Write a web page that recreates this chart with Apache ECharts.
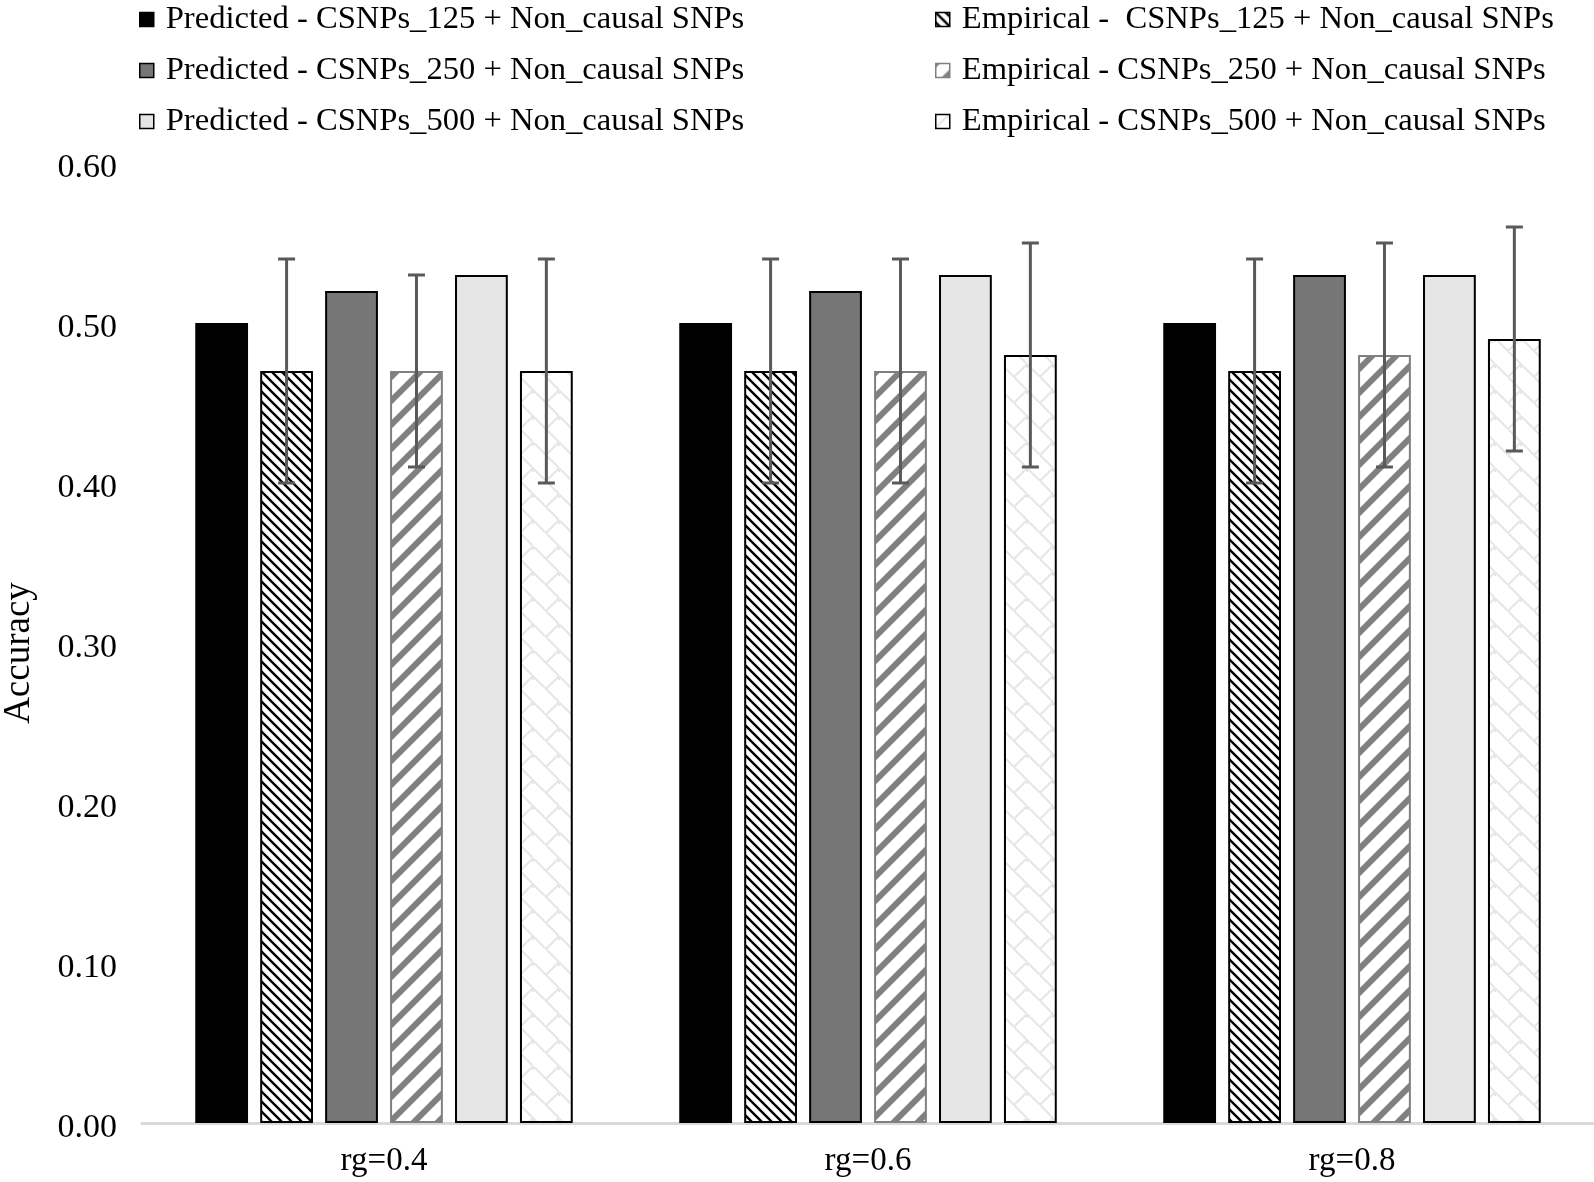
<!DOCTYPE html>
<html>
<head>
<meta charset="utf-8">
<script src="https://cdn.jsdelivr.net/npm/echarts@6/dist/echarts.min.js"></script>
<style>
html,body{margin:0;padding:0;background:#fff;}
#chart{width:1594px;height:1182px;}
</style>
</head>
<body>
<div id="chart"></div>
<script>
const categories = ['rg=0.4', 'rg=0.6', 'rg=0.8'];
const seriesNames = [
  'Predicted - CSNPs_125 + Non_causal SNPs',
  'Empirical -  CSNPs_125 + Non_causal SNPs',
  'Predicted - CSNPs_250 + Non_causal SNPs',
  'Empirical - CSNPs_250 + Non_causal SNPs',
  'Predicted - CSNPs_500 + Non_causal SNPs',
  'Empirical - CSNPs_500 + Non_causal SNPs'
];
const predicted125 = [0.50, 0.50, 0.50];
const empirical125 = [0.47, 0.47, 0.47];
const empirical125Low = [0.40, 0.40, 0.40];
const empirical125High = [0.54, 0.54, 0.54];
const predicted250 = [0.52, 0.52, 0.53];
const empirical250 = [0.47, 0.47, 0.48];
const empirical250Low = [0.41, 0.40, 0.41];
const empirical250High = [0.53, 0.54, 0.55];
const predicted500 = [0.53, 0.53, 0.53];
const empirical500 = [0.47, 0.48, 0.49];
const empirical500Low = [0.40, 0.41, 0.42];
const empirical500High = [0.54, 0.55, 0.56];
const yTicks = [0, 0.1, 0.2, 0.3, 0.4, 0.5, 0.6];

const FONT = "'Liberation Serif', 'Times New Roman', serif";

function makeTile(size, draw) {
  const c = document.createElement('canvas');
  c.width = size; c.height = size;
  const ctx = c.getContext('2d');
  ctx.fillStyle = '#fff';
  ctx.fillRect(0, 0, size, size);
  draw(ctx, size);
  return c;
}
const pat125 = makeTile(10, (ctx, s) => {
  ctx.strokeStyle = '#000'; ctx.lineWidth = 2.4;
  ctx.beginPath();
  ctx.moveTo(-2, -2); ctx.lineTo(s + 2, s + 2);
  ctx.moveTo(-2, s - 2); ctx.lineTo(2, s + 2);
  ctx.moveTo(s - 2, -2); ctx.lineTo(s + 2, 2);
  ctx.stroke();
});
const pat250 = makeTile(24, (ctx, s) => {
  ctx.strokeStyle = '#808080'; ctx.lineWidth = 6;
  ctx.beginPath();
  ctx.moveTo(-4, s + 4); ctx.lineTo(s + 4, -4);
  ctx.moveTo(-4, 4); ctx.lineTo(4, -4);
  ctx.moveTo(s - 4, s + 4); ctx.lineTo(s + 4, s - 4);
  ctx.stroke();
});
const pat500 = makeTile(26, (ctx, s) => {
  ctx.strokeStyle = '#e6e6e6'; ctx.lineWidth = 2;
  ctx.beginPath();
  ctx.moveTo(0, s / 2); ctx.lineTo(s / 2, 0); ctx.lineTo(s, s / 2);
  ctx.moveTo(s / 2, 0); ctx.lineTo(s / 2, s * 0.15);
  ctx.moveTo(0, s / 2); ctx.lineTo(s / 2, s);
  ctx.stroke();
});

const styles = [
  { color: '#000000', borderColor: '#000000', borderWidth: 0 },
  { color: { image: pat125, repeat: 'repeat' }, borderColor: '#000000', borderWidth: 2 },
  { color: '#767676', borderColor: '#000000', borderWidth: 2 },
  { color: { image: pat250, repeat: 'repeat' }, borderColor: '#808080', borderWidth: 2 },
  { color: '#e6e6e6', borderColor: '#000000', borderWidth: 2 },
  { color: { image: pat500, repeat: 'repeat' }, borderColor: '#000000', borderWidth: 2 }
];
const values = [predicted125, empirical125, predicted250, empirical250, predicted500, empirical500];
const errors = {
  1: [empirical125Low, empirical125High],
  3: [empirical250Low, empirical250High],
  5: [empirical500Low, empirical500High]
};

const CAT_GAP = 0.22, BAR_GAP = 0.23, N = 6;

const series = [];
values.forEach((v, i) => {
  series.push({
    name: seriesNames[i],
    type: 'bar',
    data: v,
    barCategoryGap: (CAT_GAP * 100) + '%',
    barGap: (BAR_GAP * 100) + '%',
    itemStyle: styles[i],
    emphasis: { disabled: true },
    z: 2
  });
});
Object.keys(errors).forEach(k => {
  const idx = +k;
  const [lo, hi] = errors[idx];
  series.push({
    type: 'custom',
    name: 'err' + idx,
    data: categories.map((c, j) => [j, lo[j], hi[j]]),
    encode: { x: 0, y: [1, 2] },
    z: 5,
    silent: true,
    renderItem: function (params, api) {
      const ci = api.value(0);
      const band = api.size([1, 0])[0];
      const bw = band * (1 - CAT_GAP) / (N + (N - 1) * BAR_GAP);
      const step = bw * (1 + BAR_GAP);
      const cx = api.coord([ci, 0])[0] + (idx - (N - 1) / 2) * step;
      const yl = api.coord([ci, api.value(1)])[1];
      const yh = api.coord([ci, api.value(2)])[1];
      const hw = 8.5;
      const st = { stroke: '#595959', lineWidth: 3 };
      return {
        type: 'group',
        children: [
          { type: 'line', shape: { x1: cx, y1: yl, x2: cx, y2: yh }, style: st },
          { type: 'line', shape: { x1: cx - hw, y1: yh, x2: cx + hw, y2: yh }, style: st },
          { type: 'line', shape: { x1: cx - hw, y1: yl, x2: cx + hw, y2: yl }, style: st }
        ]
      };
    }
  });
});

const legendBase = {
  orient: 'vertical',
  top: 3,
  padding: 0,
  itemGap: 18,
  itemWidth: 14,
  itemHeight: 14,
  icon: 'rect',
  selectedMode: false,
  textStyle: { fontFamily: FONT, fontSize: 32.6, color: '#000', lineHeight: 33, padding: [0, 0, 0, 7] }
};

const chart = echarts.init(document.getElementById('chart'), null, { renderer: 'canvas' });
chart.setOption({
  animation: false,
  backgroundColor: '#fff',
  grid: { left: 142, right: 0, top: 163, bottom: 59, containLabel: false, outerBoundsMode: 'none' },
  legend: [
    Object.assign({}, legendBase, {
      left: 139,
      data: [0, 2, 4].map(i => ({ name: seriesNames[i], itemStyle: { borderColor: '#000', borderWidth: 1.5 } }))
    }),
    Object.assign({}, legendBase, {
      left: 935,
      data: [1, 3, 5].map(i => ({ name: seriesNames[i], itemStyle: { borderColor: i === 3 ? '#808080' : '#000', borderWidth: 1.5 } }))
    })
  ],
  xAxis: {
    type: 'category',
    data: categories,
    axisLine: { show: true, lineStyle: { color: '#d9d9d9', width: 3 } },
    axisTick: { show: false },
    axisLabel: { fontFamily: FONT, fontSize: 33, color: '#000', margin: 22 }
  },
  yAxis: {
    type: 'value',
    min: yTicks[0],
    max: yTicks[yTicks.length - 1],
    interval: 0.1,
    name: 'Accuracy',
    nameLocation: 'middle',
    nameRotate: 90,
    nameGap: 104,
    nameMoveOverlap: false,
    nameTextStyle: { fontFamily: FONT, fontSize: 37, color: '#000', padding: [0, 20, 0, 0] },
    axisLine: { show: false },
    axisTick: { show: false },
    splitLine: { show: false },
    axisLabel: { fontFamily: FONT, fontSize: 34, color: '#000', margin: 25, verticalAlign: 'top', lineHeight: 10, formatter: v => v.toFixed(2) }
  },
  series: series
});
</script>
</body>
</html>
